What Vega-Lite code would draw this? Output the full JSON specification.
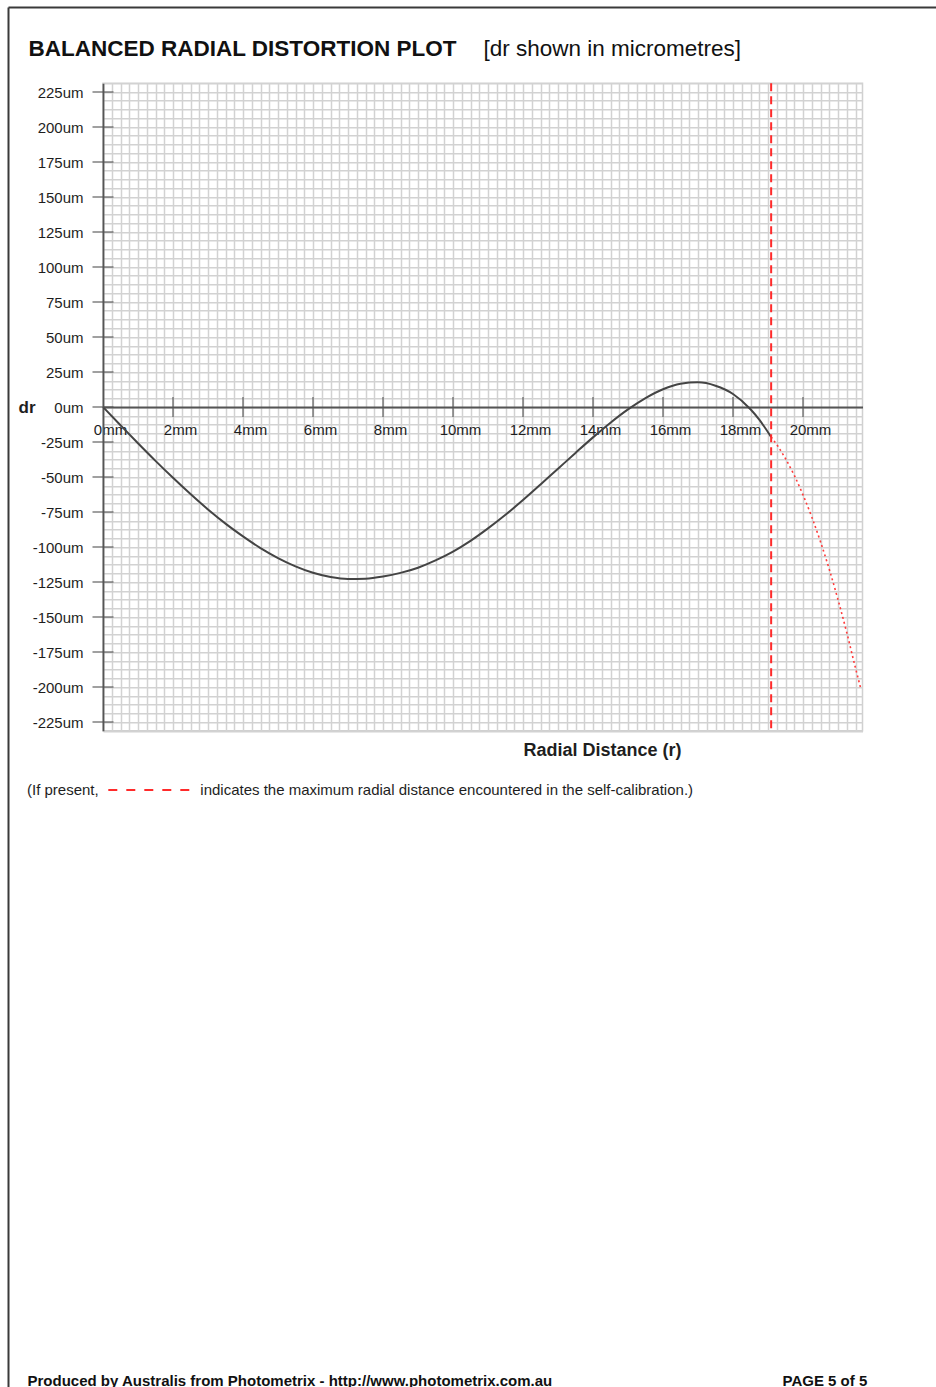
{
  "$schema": "https://vega.github.io/schema/vega-lite/v6.json",
  "width": 759.5,
  "height": 647.5,
  "autosize": {"type": "none"},
  "padding": {"left": 103, "top": 83.25, "right": 73.5, "bottom": 656.25},
  "background": "#ffffff",
  "config": {
    "font": "Liberation Sans",
    "view": {"stroke": "#d0d0d0", "strokeWidth": 1.5},
    "axis": {"labelFont": "Liberation Sans", "titleFont": "Liberation Sans"},
    "legend": {"labelFont": "Liberation Sans", "titleFont": "Liberation Sans"}
  },
  "datasets": {
    "curve": [
      {"r": 0, "dr": 0}, {"r": 0.5, "dr": -13}, {"r": 1, "dr": -25.9}, {"r": 1.5, "dr": -38.5},
      {"r": 2, "dr": -50.6}, {"r": 2.5, "dr": -62.2}, {"r": 3, "dr": -73.2}, {"r": 3.5, "dr": -83.3},
      {"r": 4, "dr": -92.4}, {"r": 4.5, "dr": -100.8}, {"r": 5, "dr": -107.9}, {"r": 5.5, "dr": -113.8},
      {"r": 6, "dr": -118.4}, {"r": 6.5, "dr": -121.4}, {"r": 7, "dr": -122.8}, {"r": 7.5, "dr": -122.6},
      {"r": 8, "dr": -121.1}, {"r": 8.5, "dr": -118.5}, {"r": 9, "dr": -114.8}, {"r": 9.5, "dr": -109.6},
      {"r": 10, "dr": -103.3}, {"r": 10.5, "dr": -95.6}, {"r": 11, "dr": -86.7}, {"r": 11.5, "dr": -77},
      {"r": 12, "dr": -66.5}, {"r": 12.5, "dr": -55.4}, {"r": 13, "dr": -44.1}, {"r": 13.5, "dr": -32.8},
      {"r": 14, "dr": -21.7}, {"r": 14.5, "dr": -11.2}, {"r": 15, "dr": -1.7}, {"r": 15.5, "dr": 6.4},
      {"r": 16, "dr": 12.7}, {"r": 16.5, "dr": 16.6}, {"r": 17, "dr": 17.6}, {"r": 17.5, "dr": 15.2},
      {"r": 18, "dr": 9.3}, {"r": 18.5, "dr": -1.6}, {"r": 18.75, "dr": -9}, {"r": 19.09, "dr": -21.4}
    ],
    "tail": [
      {"r": 19.09, "dr": -21.4}, {"r": 19.3, "dr": -28.7}, {"r": 19.5, "dr": -36.9}, {"r": 19.75, "dr": -48.8},
      {"r": 20, "dr": -62.8}, {"r": 20.25, "dr": -78.5}, {"r": 20.5, "dr": -96.3}, {"r": 20.75, "dr": -115.9},
      {"r": 21, "dr": -137.6}, {"r": 21.25, "dr": -161.1}, {"r": 21.5, "dr": -186.5}, {"r": 21.65, "dr": -201}
    ],
    "xticks": [
      {"r": 2, "dr": 0}, {"r": 4, "dr": 0}, {"r": 6, "dr": 0}, {"r": 8, "dr": 0}, {"r": 10, "dr": 0},
      {"r": 12, "dr": 0}, {"r": 14, "dr": 0}, {"r": 16, "dr": 0}, {"r": 18, "dr": 0}, {"r": 20, "dr": 0}
    ],
    "yticks": [
      {"r": 0, "dr": 225}, {"r": 0, "dr": 200}, {"r": 0, "dr": 175}, {"r": 0, "dr": 150}, {"r": 0, "dr": 125},
      {"r": 0, "dr": 100}, {"r": 0, "dr": 75}, {"r": 0, "dr": 50}, {"r": 0, "dr": 25}, {"r": 0, "dr": 0},
      {"r": 0, "dr": -25}, {"r": 0, "dr": -50}, {"r": 0, "dr": -75}, {"r": 0, "dr": -100}, {"r": 0, "dr": -125},
      {"r": 0, "dr": -150}, {"r": 0, "dr": -175}, {"r": 0, "dr": -200}, {"r": 0, "dr": -225}
    ],
    "limit": [
      {"rmax": 19.09, "note": "indicates the maximum radial distance encountered in the self-calibration.)"}
    ]
  },
  "resolve": {
    "scale": {"x": "independent", "y": "independent"},
    "axis": {"x": "independent", "y": "independent"}
  },
  "layer": [
    {
      "data": {"values": []},
      "mark": {"type": "rule"},
      "encoding": {
        "x": {"field": "px", "type": "quantitative",
          "scale": {"domain": [0, 1], "range": [-95, 833], "nice": false, "zero": false},
          "axis": {"orient": "top", "offset": 76.25, "domain": true, "domainColor": "#3a3a3a", "domainWidth": 2,
            "labels": false, "ticks": false, "grid": false, "title": null}},
        "y": {"field": "py", "type": "quantitative",
          "scale": {"domain": [0, 1], "range": [1303.75, -76.25], "nice": false, "zero": false},
          "axis": {"orient": "left", "offset": 95, "domain": true, "domainColor": "#3a3a3a", "domainWidth": 2,
            "labels": false, "ticks": false, "grid": false, "title": null}}
      }
    },
    {
      "data": {"name": "curve"},
      "mark": {"type": "line", "color": "#444444", "strokeWidth": 2, "interpolate": "monotone"},
      "encoding": {
        "x": {"field": "r", "type": "quantitative",
          "scale": {"domain": [0, 21.7], "nice": false, "zero": false},
          "axis": {
            "orient": "bottom", "offset": -323.75,
            "values": [0,0.25,0.5,0.75,1,1.25,1.5,1.75,2,2.25,2.5,2.75,3,3.25,3.5,3.75,4,4.25,4.5,4.75,5,5.25,5.5,5.75,6,6.25,6.5,6.75,7,7.25,7.5,7.75,8,8.25,8.5,8.75,9,9.25,9.5,9.75,10,10.25,10.5,10.75,11,11.25,11.5,11.75,12,12.25,12.5,12.75,13,13.25,13.5,13.75,14,14.25,14.5,14.75,15,15.25,15.5,15.75,16,16.25,16.5,16.75,17,17.25,17.5,17.75,18,18.25,18.5,18.75,19,19.25,19.5,19.75,20,20.25,20.5,20.75,21,21.25,21.5],
            "labelExpr": "datum.value % 2 === 0 ? datum.value + 'mm' : ''",
            "grid": true, "gridColor": "#d2d2d2", "gridWidth": 1.5,
            "domain": true, "domainColor": "#555555", "domainWidth": 1.8,
            "ticks": false, "tickSize": 0,
            "labelFontSize": 15, "labelColor": "#1e1e1e", "labelOffset": 7, "labelPadding": 27,
            "labelBaseline": "alphabetic", "labelAlign": "center",
            "labelOverlap": false, "labelFlush": false, "labelBound": false,
            "title": "Radial Distance (r)", "titleFontSize": 18, "titleFontWeight": "bold", "titleColor": "#1e1e1e",
            "titleX": 499, "titleY": 343, "titleAlign": "center", "titleBaseline": "middle"
          }},
        "y": {"field": "dr", "type": "quantitative",
          "scale": {"domain": [-231.25, 231.25], "nice": false, "zero": false},
          "axis": {
            "orient": "left",
            "values": [-231.25,-225,-218.75,-212.5,-206.25,-200,-193.75,-187.5,-181.25,-175,-168.75,-162.5,-156.25,-150,-143.75,-137.5,-131.25,-125,-118.75,-112.5,-106.25,-100,-93.75,-87.5,-81.25,-75,-68.75,-62.5,-56.25,-50,-43.75,-37.5,-31.25,-25,-18.75,-12.5,-6.25,0,6.25,12.5,18.75,25,31.25,37.5,43.75,50,56.25,62.5,68.75,75,81.25,87.5,93.75,100,106.25,112.5,118.75,125,131.25,137.5,143.75,150,156.25,162.5,168.75,175,181.25,187.5,193.75,200,206.25,212.5,218.75,225,231.25],
            "labelExpr": "datum.value % 25 === 0 ? datum.value + 'um' : ''",
            "grid": true, "gridColor": "#d2d2d2", "gridWidth": 1.5,
            "domain": true, "domainColor": "#555555", "domainWidth": 1.8,
            "ticks": false, "tickSize": 0,
            "labelFontSize": 15, "labelColor": "#1e1e1e", "labelPadding": 20,
            "labelAlign": "right", "labelBaseline": "middle",
            "labelOverlap": false, "labelFlush": false, "labelBound": false,
            "title": "dr", "titleAngle": 0, "titleX": -85, "titleY": 323.75,
            "titleAlign": "left", "titleBaseline": "middle",
            "titleFontSize": 17, "titleFontWeight": "bold", "titleColor": "#1e1e1e"
          }}
      }
    },
    {
      "data": {"name": "tail"},
      "mark": {"type": "line", "color": "#ff3b3b", "strokeWidth": 1.6, "strokeDash": [2, 3], "interpolate": "monotone"},
      "encoding": {
        "x": {"field": "r", "type": "quantitative",
          "scale": {"domain": [0, 21.7], "nice": false, "zero": false},
          "axis": {"orient": "top", "domain": false, "ticks": false, "labels": false, "grid": false,
            "title": "BALANCED RADIAL DISTORTION PLOT", "titleX": -75, "titleY": -28.25,
            "titleAlign": "left", "titleBaseline": "alphabetic", "titleFontSize": 22.5,
            "titleFontWeight": "bold", "titleColor": "#111111", "titleLimit": 1000}},
        "y": {"field": "dr", "type": "quantitative",
          "scale": {"domain": [-231.25, 231.25], "nice": false, "zero": false},
          "axis": {"orient": "right", "domain": false, "ticks": false, "labels": false, "grid": false,
            "title": "[dr shown in micrometres]", "titleAngle": 0, "titleX": -379.5, "titleY": -28.25,
            "titleAlign": "left", "titleBaseline": "alphabetic", "titleFontSize": 22.5,
            "titleFontWeight": "normal", "titleColor": "#111111", "titleLimit": 1000}}
      }
    },
    {
      "data": {"name": "xticks"},
      "mark": {"type": "tick", "orient": "vertical", "size": 20, "thickness": 1.6, "color": "#555555"},
      "encoding": {
        "x": {"field": "r", "type": "quantitative",
          "scale": {"domain": [0, 21.7], "nice": false, "zero": false},
          "axis": {"orient": "bottom", "domain": false, "ticks": false, "labels": false, "grid": false,
            "title": "Produced by Australis from Photometrix - http://www.photometrix.com.au",
            "titleX": -76, "titleY": 654.25, "titleAlign": "left", "titleBaseline": "alphabetic",
            "titleFontSize": 15, "titleFontWeight": "bold", "titleColor": "#111111", "titleLimit": 1000}},
        "y": {"field": "dr", "type": "quantitative",
          "scale": {"domain": [-231.25, 231.25], "nice": false, "zero": false},
          "axis": null}
      }
    },
    {
      "data": {"name": "yticks"},
      "mark": {"type": "tick", "orient": "horizontal", "size": 21, "thickness": 1.6, "color": "#555555"},
      "encoding": {
        "x": {"field": "r", "type": "quantitative",
          "scale": {"domain": [0, 21.7], "nice": false, "zero": false},
          "axis": null},
        "y": {"field": "dr", "type": "quantitative",
          "scale": {"domain": [-231.25, 231.25], "nice": false, "zero": false},
          "axis": {"orient": "right", "domain": false, "ticks": false, "labels": false, "grid": false,
            "title": "PAGE 5 of 5", "titleAngle": 0, "titleX": -80.5, "titleY": 1301.75,
            "titleAlign": "left", "titleBaseline": "alphabetic",
            "titleFontSize": 15, "titleFontWeight": "bold", "titleColor": "#111111", "titleLimit": 1000}}
      }
    },
    {
      "data": {"name": "limit"},
      "mark": {"type": "rule", "strokeWidth": 2, "strokeDash": [8, 5]},
      "encoding": {
        "x": {"field": "rmax", "type": "quantitative",
          "scale": {"domain": [0, 21.7], "nice": false, "zero": false},
          "axis": null},
        "color": {"field": "note", "type": "nominal",
          "scale": {"range": ["#ff2a2a"]},
          "legend": {
            "orient": "none", "legendX": -76, "legendY": 696.75, "direction": "vertical",
            "title": "(If present,", "titleOrient": "left", "titleAnchor": "middle", "titleBaseline": "middle",
            "titleFontSize": 15, "titleFontWeight": "normal", "titleColor": "#1e1e1e", "titlePadding": 8.3,
            "symbolType": "stroke", "symbolSize": 6561, "symbolDash": [9, 9], "symbolStrokeWidth": 2,
            "clipHeight": 20, "labelFontSize": 15, "labelColor": "#1e1e1e", "labelOffset": 10,
            "labelLimit": 900, "labelBaseline": "middle", "padding": 0
          }}
      }
    }
  ]
}
